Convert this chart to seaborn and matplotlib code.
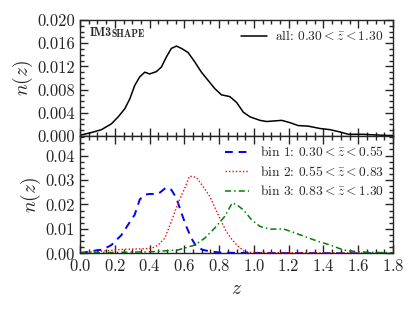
import numpy as np
import pandas as pd
import matplotlib
matplotlib.use("Agg")
import matplotlib.pyplot as plt
from matplotlib.ticker import MultipleLocator, FormatStrFormatter
import seaborn as sns

# n(z), each curve on its own z samples
z_all = [0.0, 0.008, 0.065, 0.123, 0.18, 0.219, 0.257, 0.286, 0.314, 0.343, 0.372, 0.40,
         0.439, 0.468, 0.496, 0.525, 0.554, 0.583, 0.621, 0.659, 0.698, 0.736, 0.774,
         0.813, 0.861, 0.90, 0.939, 0.978, 1.035, 1.073, 1.16, 1.208, 1.255, 1.313,
         1.38, 1.437, 1.495, 1.543, 1.63, 1.69, 1.77, 1.8]
nz_all = [0.0002, 0.0002, 0.0006, 0.0011, 0.0021, 0.0033, 0.0047, 0.0064, 0.0087, 0.0102,
          0.0110, 0.0107, 0.0111, 0.0119, 0.0136, 0.0151, 0.0155, 0.0151, 0.0144, 0.0128,
          0.0110, 0.0096, 0.0082, 0.0071, 0.0068, 0.0058, 0.0041, 0.0033, 0.0027, 0.0025,
          0.0027, 0.0023, 0.0018, 0.0017, 0.0013, 0.0011, 0.0007, 0.0003, 0.0003, 0.0002,
          0.0001, 0.0001]

z_bin1 = [0.0, 0.027, 0.075, 0.132, 0.18, 0.238, 0.276, 0.314, 0.343, 0.372, 0.40, 0.449,
          0.496, 0.525, 0.554, 0.583, 0.611, 0.64, 0.669, 0.707, 0.755, 0.81, 0.9, 1.1, 1.8]
nz_bin1 = [0.0002, 0.0004, 0.0010, 0.0016, 0.0034, 0.0075, 0.0117, 0.0158, 0.0220, 0.0240,
           0.0243, 0.0243, 0.0270, 0.0260, 0.0226, 0.0165, 0.0110, 0.0062, 0.0027, 0.0014,
           0.0007, 0.0003, 0.0002, 0.0001, 0.0]

z_bin2 = [0.0, 0.084, 0.238, 0.41, 0.449, 0.487, 0.525, 0.564, 0.602, 0.63, 0.669, 0.707,
          0.746, 0.794, 0.841, 0.87, 0.901, 0.94, 0.978, 1.1, 1.4, 1.8]
nz_bin2 = [0.0002, 0.0007, 0.0016, 0.0020, 0.0034, 0.0062, 0.0130, 0.0206, 0.0267, 0.0316,
           0.0311, 0.0274, 0.0233, 0.0158, 0.0089, 0.0060, 0.0034, 0.0010, 0.0004, 0.0003,
           0.0002, 0.0001]

z_bin3 = [0.0, 0.2, 0.4, 0.564, 0.66, 0.717, 0.774, 0.832, 0.875, 0.901, 0.939, 0.987,
          1.035, 1.093, 1.169, 1.227, 1.284, 1.361, 1.438, 1.514, 1.59, 1.667, 1.744, 1.8]
nz_bin3 = [0.0001, 0.0004, 0.0006, 0.0014, 0.0034, 0.0062, 0.0103, 0.0151, 0.0206, 0.0199,
           0.0178, 0.0137, 0.0110, 0.0099, 0.0100, 0.0086, 0.0071, 0.0051, 0.0034, 0.0014,
           0.0007, 0.0004, 0.0003, 0.0002]

label_all = r"all: $0.30 < \bar{z} < 1.30$"
bin_labels = [r"bin 1: $0.30 < \bar{z} < 0.55$",
              r"bin 2: $0.55 < \bar{z} < 0.83$",
              r"bin 3: $0.83 < \bar{z} < 1.30$"]

sns.set_style("ticks")
plt.rcParams["font.family"] = ["cmr10", "DejaVu Serif"]
plt.rcParams["mathtext.fontset"] = "cm"
plt.rcParams["axes.formatter.use_mathtext"] = True

fig = plt.figure(figsize=(4.15, 3.12), dpi=100)
ax1 = fig.add_axes([0.193, 0.564, 0.754, 0.372])
ax2 = fig.add_axes([0.193, 0.188, 0.754, 0.376])

sns.lineplot(x=z_all, y=nz_all, ax=ax1, color="black", lw=1.1, label=label_all)

sns.lineplot(x=z_bin1, y=nz_bin1, ax=ax2, color="blue", lw=1.4,
             linestyle=(0, (4, 3)), label=bin_labels[0])
sns.lineplot(x=z_bin2, y=nz_bin2, ax=ax2, color="red", lw=1.0,
             linestyle=(0, (1, 1.5)), label=bin_labels[1])
sns.lineplot(x=z_bin3, y=nz_bin3, ax=ax2, color="green", lw=1.1,
             linestyle=(0, (4, 2, 1, 2)), label=bin_labels[2])

for ax in (ax1, ax2):
    ax.set_xlim(0, 1.8)
    ax.xaxis.set_major_locator(MultipleLocator(0.2))
    ax.xaxis.set_minor_locator(MultipleLocator(0.05))
    ax.tick_params(which="both", direction="in", top=True, right=True, labelsize=12, width=1)
    ax.tick_params(which="major", length=6)
    ax.tick_params(which="minor", length=3)
    for s in ax.spines.values():
        s.set_linewidth(1.0)
    ax.set_ylabel(r"$n(z)$", fontsize=14, labelpad=2)

ax1.set_ylim(0, 0.020)
ax1.yaxis.set_major_locator(MultipleLocator(0.004))
ax1.yaxis.set_minor_locator(MultipleLocator(0.001))
ax1.yaxis.set_major_formatter(FormatStrFormatter("%.3f"))
ax1.tick_params(labelbottom=False)
ax1.set_xlabel("")

# IM3SHAPE tag with small caps made from two sizes
t1 = ax1.text(0.031, 0.94, "IM3", transform=ax1.transAxes, fontsize=8.6,
              family=["cmb10", "DejaVu Serif"], va="top", ha="left")
ax1.annotate("SHAPE", xy=(1, 0), xycoords=t1, fontsize=7.0,
             family=["cmb10", "DejaVu Serif"], va="bottom", ha="left")

ax1.legend(loc="upper right", frameon=False, fontsize=9.7, handlelength=1.9,
           handletextpad=0.65, borderaxespad=0.3)

ax2.set_ylim(0, 0.048)
ax2.yaxis.set_major_locator(MultipleLocator(0.01))
ax2.yaxis.set_minor_locator(MultipleLocator(0.0025))
ax2.yaxis.set_major_formatter(FormatStrFormatter("%.2f"))
ax2.set_xlabel(r"$z$", fontsize=14)
ax2.legend(loc="upper right", frameon=False, fontsize=9.7, handlelength=1.8,
           handletextpad=0.8, borderaxespad=0.3, labelspacing=0.4)

fig.savefig("out.png", dpi=100)
